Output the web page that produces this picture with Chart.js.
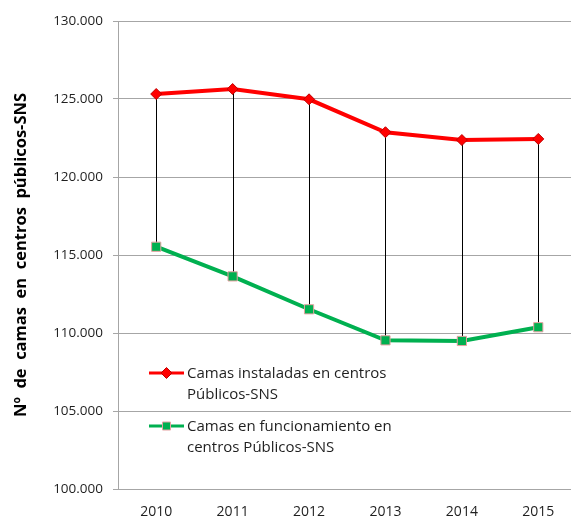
<!DOCTYPE html>
<html>
<head>
<meta charset="utf-8">
<script src="https://cdn.jsdelivr.net/npm/chart.js@4/dist/chart.umd.min.js"></script>
<style>
  html, body { margin: 0; padding: 0; background: #ffffff; overflow: hidden; }
  #wrap { width: 584px; height: 520px; }
</style>
</head>
<body>
<div id="wrap"><canvas id="c" width="584" height="520" style="width:584px;height:520px"></canvas></div>
<script>
// ---- data ----
const years = ['2010', '2011', '2012', '2013', '2014', '2015'];
const camasInstaladas = [125320, 125640, 124980, 122870, 122370, 122440];
const camasFuncionamiento = [115530, 113630, 111520, 109530, 109490, 110370];
const seriesNames = ['Camas instaladas en centros\nPúblicos-SNS', 'Camas en funcionamiento en\ncentros Públicos-SNS'];
const yTitle = 'Nº  de  camas  en  centros  públicos-SNS';
const yMin = 100000, yMax = 130000, yStep = 5000;

const FONT = "'Open Sans', 'Liberation Sans', sans-serif";
const RED = '#ff0000', RED_EDGE = '#c00000';
const GREEN = '#00b050', GREEN_EDGE = '#e6a1a1';
const GRID = '#a6a6a6';
const TEXT = '#1f1f1f';

function fmt(v) {
  const th = Math.floor(v / 1000);
  const rest = String(Math.round(v % 1000)).padStart(3, '0');
  return th + '.' + rest;
}

// high-low (drop) lines between the two series, from library positions
const dropLines = {
  id: 'dropLines',
  beforeDatasetsDraw(chart) {
    const a = chart.getDatasetMeta(0).data;
    const b = chart.getDatasetMeta(1).data;
    const ctx = chart.ctx;
    ctx.save();
    ctx.strokeStyle = '#000000';
    ctx.lineWidth = 1;
    for (let i = 0; i < a.length; i++) {
      const x = Math.round(a[i].x) + 0.5;
      ctx.beginPath();
      ctx.moveTo(x, a[i].y);
      ctx.lineTo(x, b[i].y);
      ctx.stroke();
    }
    ctx.restore();
  }
};

// legend drawn inside the plot area with two-line labels
const innerLegend = {
  id: 'innerLegend',
  afterDraw(chart) {
    const ctx = chart.ctx;
    const entries = [
      { color: RED, edge: RED_EDGE, style: 'diamond', y: 373 },
      { color: GREEN, edge: GREEN_EDGE, style: 'square', y: 426 }
    ];
    ctx.save();
    ctx.font = '15px ' + FONT;
    ctx.textBaseline = 'middle';
    entries.forEach((e, i) => {
      const x0 = 149, x1 = 184, xm = (x0 + x1) / 2;
      ctx.strokeStyle = e.color;
      ctx.lineWidth = 3;
      ctx.beginPath();
      ctx.moveTo(x0, e.y);
      ctx.lineTo(x1, e.y);
      ctx.stroke();
      ctx.fillStyle = e.color;
      ctx.strokeStyle = e.edge;
      ctx.lineWidth = 1;
      ctx.beginPath();
      if (e.style === 'diamond') {
        ctx.moveTo(xm, e.y - 5.5); ctx.lineTo(xm + 5.5, e.y); ctx.lineTo(xm, e.y + 5.5); ctx.lineTo(xm - 5.5, e.y); ctx.closePath();
      } else {
        ctx.rect(xm - 4, e.y - 4, 8, 8);
      }
      ctx.fill();
      ctx.stroke();
      ctx.fillStyle = TEXT;
      const lines = seriesNames[i].split('\n');
      lines.forEach((t, k) => ctx.fillText(t, 187, e.y + 1 + k * 21));
    });
    ctx.restore();
  }
};

new Chart(document.getElementById('c'), {
  type: 'line',
  data: {
    labels: years,
    datasets: [
      {
        label: seriesNames[0],
        data: camasInstaladas,
        borderColor: RED,
        backgroundColor: RED,
        borderWidth: 4,
        pointStyle: 'rectRot',
        pointRadius: 5.5,
        pointBorderColor: RED_EDGE,
        pointBorderWidth: 1,
        pointBackgroundColor: RED,
        tension: 0,
        fill: false
      },
      {
        label: seriesNames[1],
        data: camasFuncionamiento,
        borderColor: GREEN,
        backgroundColor: GREEN,
        borderWidth: 4,
        pointStyle: 'rect',
        pointRadius: 6.5,
        pointBorderColor: GREEN_EDGE,
        pointBorderWidth: 1,
        pointBackgroundColor: GREEN,
        tension: 0,
        fill: false
      }
    ]
  },
  options: {
    responsive: false,
    animation: false,
    devicePixelRatio: 1,
    layout: { padding: { top: 21, right: 1, left: 11, bottom: 0 } },
    plugins: { legend: { display: false }, tooltip: { enabled: false } },
    scales: {
      x: {
        type: 'category',
        offset: true,
        grid: { display: false, drawTicks: false },
        border: { display: true, color: GRID, width: 1 },
        ticks: { padding: 15, color: TEXT, font: { family: FONT, size: 14 }, maxRotation: 0 },
        afterFit(s) { s.height = 31; }
      },
      y: {
        min: yMin,
        max: yMax,
        grid: { color: GRID, lineWidth: 1, tickLength: 5, drawTicks: true },
        border: { display: true, color: GRID, width: 1 },
        ticks: {
          stepSize: yStep,
          padding: 10,
          color: TEXT,
          font: { family: FONT, size: 13.5 },
          callback: (v) => fmt(v)
        },
        title: {
          display: true,
          text: yTitle,
          color: '#000000',
          font: { family: FONT, size: 16.5, weight: 'bold' },
          padding: { top: 0, bottom: 0 }
        },
        afterFit(s) { s.width = 107; }
      }
    }
  },
  plugins: [dropLines, innerLegend]
});
</script>
</body>
</html>
